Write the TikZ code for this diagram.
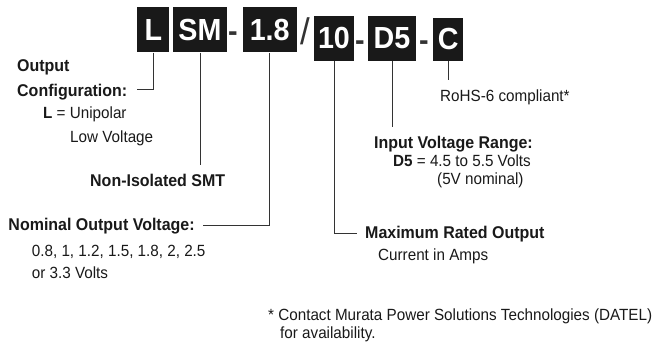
\documentclass[tikz,border=0pt]{standalone}
\usepackage{fontspec}
\setmainfont{Liberation Sans}[FakeStretch=0.94]
\newcommand\rgfont{\fontsize{16.2}{19}\selectfont}
\newcommand\bdfont{\fontsize{17}{20}\selectfont\bfseries}
\newcommand\pbfont{\fontsize{30.5}{34}\selectfont\bfseries}
\newcommand\slfont{\fontsize{37}{40}\selectfont}
\begin{document}
\begin{tikzpicture}[x=1pt,y=-1pt,
 pbox/.style={fill=black!90, text=white, font=\pbfont, inner sep=0pt, minimum height=45pt},
 sepmark/.style={text=black!80, font=\pbfont, inner sep=0pt, anchor=base},
 lbl/.style={anchor=base west, inner sep=0pt, font=\rgfont, text=black!90},
 hd/.style={anchor=base west, inner sep=0pt, font=\bdfont, text=black!90},
 wire/.style={draw=black!80, line width=0.8pt}]
\useasboundingbox (0,0) rectangle (657,358);

% part-number boxes
\node[pbox, minimum width=32pt] (bL) at (153.3,30) {L};
\node[pbox, minimum width=54.6pt] (bSM) at (200,30) {SM};
\node[sepmark] (d1) at (233,42) {-};
\node[pbox, minimum width=54pt] (b18) at (269.7,30) {1.8};
\node[sepmark, font=\slfont] (sl) at (305,44.5) {/};
\node[pbox, minimum width=40pt] (b10) at (334,38.5) {10};
\node[sepmark] (d2) at (360,50.5) {-};
\node[pbox, minimum width=48.3pt] (bD5) at (391.9,38.5) {D5};
\node[sepmark] (d3) at (424,50.5) {-};
\node[pbox, minimum width=30pt, minimum height=43pt] (bC) at (448.3,39.5) {C};

% labels
\node[hd] (tOut) at (17,71.5) {Output};
\node[hd] (tConf) at (17,96.5) {Configuration:};
\node[lbl] (tL) at (43,119) {\textbf{L} = Unipolar};
\node[lbl] (tLow) at (70,142.5) {Low Voltage};
\node[hd] (tNI) at (90,187) {Non-Isolated SMT};
\node[hd] (tNom) at (8.3,230.3) {Nominal Output Voltage:};
\node[lbl] (tV1) at (31.7,257) {0.8, 1, 1.2, 1.5, 1.8, 2, 2.5};
\node[lbl] (tV2) at (31.7,278.7) {or 3.3 Volts};
\node[lbl] (tRo) at (440,101.7) {RoHS-6 compliant*};
\node[hd] (tIn) at (374,149) {Input Voltage Range:};
\node[lbl] (tD5) at (393,166.7) {\textbf{D5} = 4.5 to 5.5 Volts};
\node[lbl] (tNom5) at (437,184.5) {(5V nominal)};
\node[hd] (tMax) at (365,239) {Maximum Rated Output};
\node[lbl] (tCur) at (378,260.5) {Current in Amps};
\node[lbl] (tF1) at (268,321) {* Contact Murata Power Solutions Technologies (DATEL)};
\node[lbl] (tF2) at (280,339) {for availability.};

% connectors
\coordinate (eL) at (137,89.3);
\coordinate (eSM) at (200,165);
\coordinate (e18) at (203,225);
\coordinate (e10) at (356.7,233.3);
\coordinate (eD5) at (391.9,126.7);
\coordinate (eC) at (448.3,80);
\draw[wire] (bL.south) |- (eL);
\draw[wire] (bSM.south) -- (eSM);
\draw[wire] (b18.south) |- (e18);
\draw[wire] (b10.south) |- (e10);
\draw[wire] (bD5.south) -- (eD5);
\draw[wire] (bC.south) -- (eC);
\end{tikzpicture}
\end{document}
